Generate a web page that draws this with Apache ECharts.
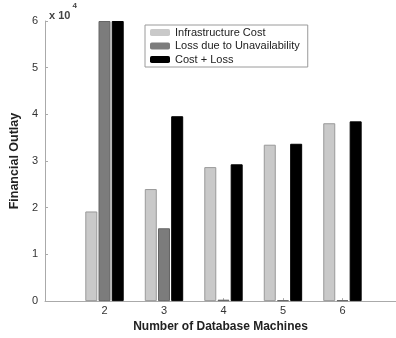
<!DOCTYPE html>
<html><head><meta charset="utf-8">
<script src="https://cdn.jsdelivr.net/npm/echarts@6/dist/echarts.min.js"></script>
<style>html,body{margin:0;padding:0;background:#fff}#c{width:396px;height:338px}</style>
</head><body><div id="c"></div>
<script>
const machines = [2, 3, 4, 5, 6];
const infraCost = [1.92, 2.40, 2.87, 3.35, 3.81];
const lossUnavail = [6.0, 1.56, 0.03, 0.02, 0.02];
const costPlusLoss = [6.0, 3.96, 2.93, 3.37, 3.85];
const xTicks = [2, 3, 4, 5, 6];
const yTicks = [0, 1, 2, 3, 4, 5, 6];
const seriesNames = ['Infrastructure Cost', 'Loss due to Unavailability', 'Cost + Loss'];

const font = 'Liberation Sans, Arial, sans-serif';
const pair = arr => machines.map((m, i) => [m, arr[i]]);

const chart = echarts.init(document.getElementById('c'), null, {renderer: 'canvas'});
chart.setOption({
  animation: false,
  backgroundColor: '#fff',
  textStyle: {fontFamily: font},
  grid: {left: 45, right: 0, top: 21, bottom: 34, containLabel: false},
  legend: {
    orient: 'vertical', left: 145, top: 25,
    padding: [2, 8, 2, 5],
    itemWidth: 20, itemHeight: 7, itemGap: 2.5,
    borderColor: '#9a9a9a', borderWidth: 1,
    backgroundColor: '#fff',
    data: seriesNames,
    textStyle: {fontFamily: font, fontSize: 11, color: '#222', lineHeight: 11, padding: [0, 0, 0, 0]},
    itemStyle: {borderWidth: 0}
  },
  xAxis: {
    type: 'value', min: 1, max: 6.9,
    name: 'Number of Database Machines', nameLocation: 'middle', nameGap: 17,
    nameTextStyle: {fontFamily: font, fontSize: 12, fontWeight: 'bold', color: '#222', padding: [0, 0, 0, 0]},
    axisLine: {show: true, lineStyle: {color: '#aaa', width: 1}},
    axisTick: {show: true, inside: true, length: 3, customValues: xTicks, lineStyle: {color: '#aaa'}},
    axisLabel: {customValues: xTicks, fontSize: 11, color: '#333', margin: 4, fontFamily: font},
    splitLine: {show: false}
  },
  yAxis: {
    type: 'value', min: 0, max: 6, interval: 1,
    name: 'Financial Outlay', nameLocation: 'middle', nameGap: 21, nameRotate: 90,
    nameTextStyle: {fontFamily: font, fontSize: 12.5, fontWeight: 'bold', color: '#222'},
    axisLine: {show: true, lineStyle: {color: '#aaa', width: 1}},
    axisTick: {show: true, inside: true, length: 3, lineStyle: {color: '#aaa'}},
    axisLabel: {fontSize: 11, color: '#333', margin: 7, fontFamily: font,
      formatter: v => yTicks.includes(v) ? String(v) : ''},
    splitLine: {show: false}
  },
  graphic: [{
    type: 'text', left: 49, top: 2,
    style: {
      text: '{a|x 10}{s|4}', fontFamily: font,
      rich: {
        a: {fontSize: 11, fontWeight: 'bold', fill: '#444', fontFamily: font, padding: [8, 0, 0, 0]},
        s: {fontSize: 8, fontWeight: 'bold', fill: '#444', fontFamily: font, verticalAlign: 'top', padding: [0, 0, 8, 2]}
      }
    }
  }],
  series: [
    {name: seriesNames[0], type: 'bar', data: pair(infraCost), barWidth: 12, barGap: '10%',
     itemStyle: {color: '#c9c9c9', borderColor: '#999', borderWidth: 1}},
    {name: seriesNames[1], type: 'bar', data: pair(lossUnavail), barWidth: 12, barGap: '10%',
     itemStyle: {color: '#7c7c7c', borderColor: '#666', borderWidth: 1}},
    {name: seriesNames[2], type: 'bar', data: pair(costPlusLoss), barWidth: 12, barGap: '10%',
     itemStyle: {color: '#000', borderColor: '#000', borderWidth: 1}}
  ]
});
</script></body></html>
